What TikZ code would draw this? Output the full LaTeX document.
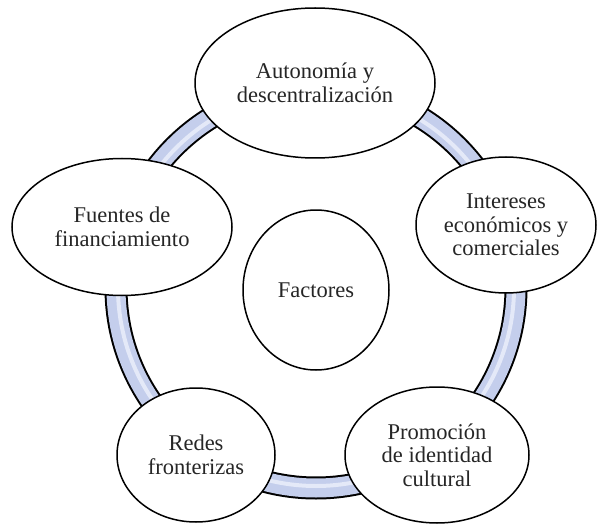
\documentclass[tikz,border=0pt]{standalone}
\usepackage{fontspec}
\setmainfont{Liberation Serif}
\usetikzlibrary{shapes.geometric}
\definecolor{ringblue}{RGB}{196,206,236}
\definecolor{ringlight}{RGB}{228,233,248}
\tikzset{
  bubble/.style={ellipse, draw=black, line width=1.5pt, fill=white, inner sep=0pt,
    align=center, font=\fontsize{22.5}{23.5}\selectfont, text=black!85},
}
\begin{document}
\begin{tikzpicture}[x=1pt,y=-1pt]
\useasboundingbox (0,0) rectangle (597,524);
\coordinate (ringc) at (316,288);
% ring
\draw[line width=23pt, black] (ringc) circle [radius=200pt];
\draw[line width=19pt, ringblue] (ringc) circle [radius=200pt];
\draw[line width=4pt, ringlight] (ringc) circle [radius=198pt];
% nodes
\node[bubble, minimum width=240pt, minimum height=150pt] (auto) at (315,83) {Autonomía y\\descentralización};
\node[bubble, minimum width=180pt, minimum height=136pt] (int) at (506,225) {Intereses\\económicos y\\comerciales};
\node[bubble, minimum width=184pt, minimum height=136pt] (prom) at (437,455) {Promoción\\de identidad\\cultural};
\node[bubble, minimum width=158pt, minimum height=134pt] (redes) at (196,455) {Redes\\fronterizas};
\node[bubble, minimum width=220pt, minimum height=137pt] (fuen) at (122,227) {Fuentes de\\financiamiento};
\node[bubble, minimum width=146pt, minimum height=160pt] (fac) at (316,290) {Factores};
\end{tikzpicture}
\end{document}
